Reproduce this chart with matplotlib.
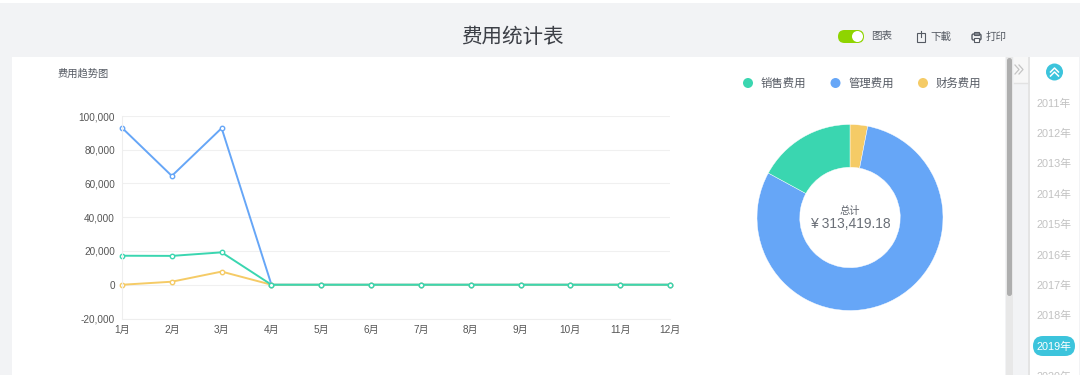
import matplotlib
matplotlib.use('Agg')
import matplotlib.pyplot as plt
from matplotlib.patches import Rectangle, FancyBboxPatch, Circle

plt.rcParams['font.family'] = ['Liberation Sans', 'Noto Sans CJK SC']

# data
months = ['1月', '2月', '3月', '4月', '5月', '6月', '7月', '8月', '9月', '10月', '11月', '12月']
sales = [17200, 17100, 19200, 0, 0, 0, 0, 0, 0, 0, 0, 0]
admin = [93000, 64500, 92800, 0, 0, 0, 0, 0, 0, 0, 0, 0]
finance = [0, 1800, 7800, 0, 0, 0, 0, 0, 0, 0, 0, 0]
y_ticks = [-20000, 0, 20000, 40000, 60000, 80000, 100000]
series_names = ['销售费用', '管理费用', '财务费用']
pie_values = [9600, 250300, 53500]
total_text = '¥ 313,419.18'
years = ['2011年', '2012年', '2013年', '2014年', '2015年', '2016年', '2017年', '2018年', '2019年', '2020年']

GREEN = '#3ad6b0'
BLUE = '#66a6f7'
YELLOW = '#f5cb66'
W, H = 1080, 375

fig = plt.figure(figsize=(W / 100, H / 100), dpi=100, facecolor='#f2f3f5')

# page background, drawn in pixel coords
bg = fig.add_axes([0, 0, 1, 1])
bg.set_xlim(0, W)
bg.set_ylim(H, 0)
bg.axis('off')
bg.add_patch(Rectangle((0, 0), W, 3, color='white', lw=0))
bg.add_patch(Rectangle((12, 57), 993, 318, color='white', lw=0))
bg.add_patch(Rectangle((1006, 57), 7, 318, color='#e8e8e8', lw=0))
bg.add_patch(FancyBboxPatch((1007, 58), 5, 238, boxstyle='round,pad=0,rounding_size=2.5', color='#aeaeae', lw=0))
bg.add_patch(Rectangle((1014, 57), 14, 26, color='#f7f7f7', lw=0))
bg.plot([1014, 1028], [83, 83], color='#e2e2e2', lw=1)
bg.add_patch(Rectangle((1028, 57), 2, 318, color='#e4e4e4', lw=0))
bg.add_patch(Rectangle((1030, 57), 49, 318, color='white', lw=0))

# header
bg.text(512, 37, '费用统计表', fontsize=14.8, color='#3c3f46', ha='center', va='center')
bg.add_patch(FancyBboxPatch((838, 30), 26, 13, boxstyle='round,pad=0,rounding_size=6.5', color='#8fd400', lw=0))
bg.add_patch(Circle((857.5, 36.5), 5.5, color='white', lw=0))
bg.text(871.5, 36.5, '图表', fontsize=7.6, color='#555a63', va='center')
bg.add_patch(Rectangle((916.5, 32.5), 8, 9, fc='none', ec='#555a63', lw=0.8))
bg.plot([920.5, 920.5], [31, 37], color='#555a63', lw=0.8)
bg.text(930, 36.5, '下載', fontsize=7.6, color='#555a63', va='center')
bg.add_patch(FancyBboxPatch((972, 34), 9, 6, boxstyle='round,pad=0,rounding_size=1.5', fc='none', ec='#555a63', lw=1))
bg.add_patch(Rectangle((974, 31.5), 5, 3, fc='none', ec='#555a63', lw=0.8))
bg.add_patch(Rectangle((974, 38), 5, 3.5, fc='white', ec='#555a63', lw=0.8))
bg.text(986, 36.5, '打印', fontsize=7.6, color='#555a63', va='center')

# collapse arrows
for x0 in [1015, 1019]:
    bg.plot([x0, x0 + 4, x0], [65, 69.5, 74], color='#c4c4c4', lw=0.9)

# year sidebar
bg.add_patch(Circle((1054.5, 72), 8.5, color='#3cc4dc', lw=0))
for y0 in [70, 74]:
    bg.plot([1050.5, 1054.5, 1058.5], [y0 + 2, y0 - 2, y0 + 2], color='white', lw=1.1)
for i, year in enumerate(years):
    y = 103.5 + i * 30.4
    if year == '2019年':
        bg.add_patch(FancyBboxPatch((1033, 336), 42, 20, boxstyle='round,pad=0,rounding_size=10', color='#3cc4dc', lw=0))
        bg.text(1054, y, year, fontsize=7.8, color='white', ha='center', va='center')
    else:
        bg.text(1054, y, year, fontsize=7.8, color='#c2c2c2', ha='center', va='center')

# legend and small title
bg.text(58, 74, '费用趋势图', fontsize=7.4, color='#555a63', va='center')
for name, col, cx in zip(series_names, [GREEN, BLUE, YELLOW], [748, 835.5, 923]):
    bg.add_patch(Circle((cx, 83), 5, color=col, lw=0))
    bg.text(cx + 12.5, 83, name, fontsize=8.2, color='#555a63', va='center')

# line chart
ax = fig.add_axes([122 / W, 1 - 318.5 / H, 548 / W, 202.5 / H])
ax.patch.set_alpha(0)
for values, col in zip([admin, finance, sales], [BLUE, YELLOW, GREEN]):
    ax.plot(months, values, color=col, lw=1.4, marker='o', ms=3.2, mfc='white', mec=col, mew=1.0, clip_on=False)
ax.set_xlim(0, 11)
ax.set_ylim(-20000, 100000)
ax.set_yticks(y_ticks)
ax.set_yticklabels([f'{v:,}' for v in y_ticks])
ax.grid(axis='y', color='#f0f0f0', lw=0.8)
ax.set_axisbelow(True)
ax.tick_params(axis='both', length=0, labelsize=7.2, labelcolor='#555555')
ax.tick_params(axis='y', pad=5)
ax.tick_params(axis='x', pad=4.5)
for side in ['top', 'right']:
    ax.spines[side].set_visible(False)
for side in ['left', 'bottom']:
    ax.spines[side].set_color('#eeeeee')
    ax.spines[side].set_linewidth(0.8)

# donut
pie_ax = fig.add_axes([(850 - 93) / W, 1 - (217.5 + 93) / H, 186 / W, 186 / H])
pie_ax.pie(pie_values, colors=[YELLOW, BLUE, GREEN], startangle=90, counterclock=False, radius=1,
           wedgeprops={'width': 0.46, 'edgecolor': 'white', 'linewidth': 0.3})
pie_ax.set_xlim(-1, 1)
pie_ax.set_ylim(-1, 1)
pie_ax.text(0, 0.07, '总计', fontsize=7.4, color='#5f646c', ha='center', va='center')
pie_ax.text(0, -0.065, total_text, fontsize=10, color='#6a6f77', ha='center', va='center')

fig.savefig('out.png', dpi=100, facecolor=fig.get_facecolor())
